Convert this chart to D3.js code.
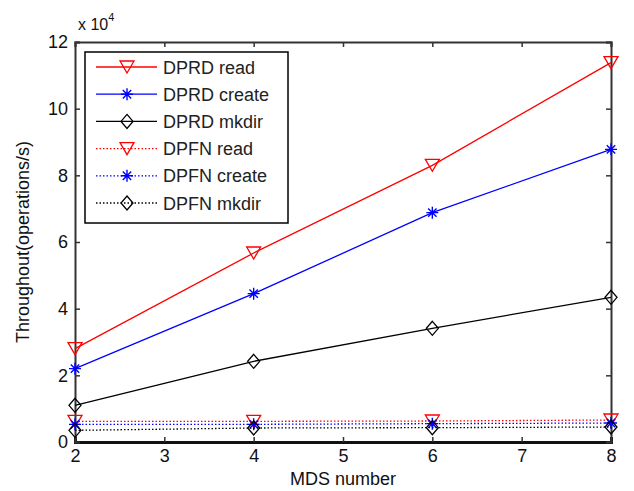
<!DOCTYPE html>
<html><head><meta charset="utf-8">
<script src="https://cdn.jsdelivr.net/npm/d3@7"></script>
<style>body{margin:0;background:#fff}svg{display:block}text{font-family:"Liberation Sans",Arial,sans-serif}</style>
</head><body>
<svg id="c" width="634" height="491"></svg>
<script>
const xValues = [2, 4, 6, 8];
const dprdRead = [2.8, 5.67, 8.3, 11.38];
const dprdCreate = [2.2, 4.45, 6.88, 8.78];
const dprdMkdir = [1.1, 2.42, 3.41, 4.34];
const dpfnRead = [0.62, 0.62, 0.63, 0.66];
const dpfnCreate = [0.53, 0.53, 0.55, 0.57];
const dpfnMkdir = [0.35, 0.42, 0.43, 0.45];
const seriesNames = ["DPRD read","DPRD create","DPRD mkdir","DPFN read","DPFN create","DPFN mkdir"];
const xTicks = [2,3,4,5,6,7,8];
const yTicks = [0,2,4,6,8,10,12];

const series = [
  {name: seriesNames[0], values: dprdRead, color: "#ff0000", marker: "tri", dotted: false},
  {name: seriesNames[1], values: dprdCreate, color: "#0000ff", marker: "star", dotted: false},
  {name: seriesNames[2], values: dprdMkdir, color: "#000000", marker: "dia", dotted: false},
  {name: seriesNames[3], values: dpfnRead, color: "#ff0000", marker: "tri", dotted: true},
  {name: seriesNames[4], values: dpfnCreate, color: "#0000ff", marker: "star", dotted: true},
  {name: seriesNames[5], values: dpfnMkdir, color: "#000000", marker: "dia", dotted: true}
];

const svg = d3.select("#c");
const L = 75, R = 611, T = 42, B = 442;
const x = d3.scaleLinear().domain([2, 8]).range([L, R]);
const y = d3.scaleLinear().domain([0, 12]).range([B, T]);

const fs = 18;
const axB = svg.append("g").attr("transform", `translate(0,${B})`).call(d3.axisBottom(x).tickValues(xTicks).tickSize(-5).tickPadding(7).tickFormat(d3.format("d")));
const axT = svg.append("g").attr("transform", `translate(0,${T})`).call(d3.axisTop(x).tickValues(xTicks).tickSize(-5).tickFormat(""));
const axL = svg.append("g").attr("transform", `translate(${L},0)`).call(d3.axisLeft(y).tickValues(yTicks).tickSize(-5).tickPadding(7).tickFormat(d3.format("d")));
const axR = svg.append("g").attr("transform", `translate(${R},0)`).call(d3.axisRight(y).tickValues(yTicks).tickSize(-5).tickFormat(""));
[axB, axT, axL, axR].forEach(a => {
  a.select(".domain").attr("stroke", "#333").attr("stroke-width", 2);
  a.selectAll(".tick line").attr("stroke", "#333").attr("stroke-width", 1.5);
  a.selectAll("text").attr("font-size", fs).attr("fill", "#111").attr("font-family", "Liberation Sans, Arial, sans-serif");
});
axB.select(".domain").attr("stroke-width", 3).attr("stroke", "#111");

// exponent
const ex = svg.append("text").attr("x", 78).attr("y", 30).attr("font-size", 16).attr("fill", "#111");
ex.append("tspan").text("x 10");
ex.append("tspan").attr("dy", -9).attr("font-size", 11).text("4");

// axis labels
svg.append("text").attr("x", (L + R) / 2).attr("y", 485).attr("text-anchor", "middle").attr("font-size", fs).attr("fill", "#111").text("MDS number");
svg.append("text").attr("transform", `translate(29,${(T + B) / 2}) rotate(-90)`).attr("text-anchor", "middle").attr("font-size", fs).attr("fill", "#111").text("Throughout(operations/s)");

function drawMarker(g, type, cx, cy, color) {
  if (type === "tri") {
    g.append("path").attr("d", `M${cx-7},${cy-6}L${cx+7},${cy-6}L${cx},${cy+6}Z`).attr("fill", "none").attr("stroke", color).attr("stroke-width", 1.3);
  } else if (type === "star") {
    const r = 6;
    let d = `M${cx-r},${cy}L${cx+r},${cy}M${cx},${cy-r}L${cx},${cy+r}M${cx-r*0.7},${cy-r*0.7}L${cx+r*0.7},${cy+r*0.7}M${cx-r*0.7},${cy+r*0.7}L${cx+r*0.7},${cy-r*0.7}`;
    g.append("path").attr("d", d).attr("fill", "none").attr("stroke", color).attr("stroke-width", 1.4);
  } else {
    g.append("path").attr("d", `M${cx},${cy-7}L${cx+6},${cy}L${cx},${cy+7}L${cx-6},${cy}Z`).attr("fill", "none").attr("stroke", color).attr("stroke-width", 1.3);
  }
}

const line = d3.line().x((d, i) => x(xValues[i])).y(d => y(d));
series.forEach(s => {
  svg.append("path").datum(s.values).attr("d", line).attr("fill", "none").attr("stroke", s.color).attr("stroke-width", 1.3)
    .attr("stroke-dasharray", s.dotted ? "1.5,2" : null);
  const g = svg.append("g");
  s.values.forEach((v, i) => drawMarker(g, s.marker, x(xValues[i]), y(v), s.color));
});

// legend
const lg = svg.append("g");
lg.append("rect").attr("x", 85).attr("y", 52).attr("width", 203).attr("height", 171).attr("fill", "#fff").attr("stroke", "#000").attr("stroke-width", 1.5);
series.forEach((s, i) => {
  const ly = 67 + i * 27.2;
  lg.append("line").attr("x1", 96).attr("x2", 157).attr("y1", ly).attr("y2", ly).attr("stroke", s.color).attr("stroke-width", 1.3)
    .attr("stroke-dasharray", s.dotted ? "1.5,2" : null);
  drawMarker(lg, s.marker, 127, ly, s.color);
  lg.append("text").attr("x", 163).attr("y", ly + 6.5).attr("font-size", fs).attr("fill", "#222").text(s.name);
});
</script>
</body></html>
